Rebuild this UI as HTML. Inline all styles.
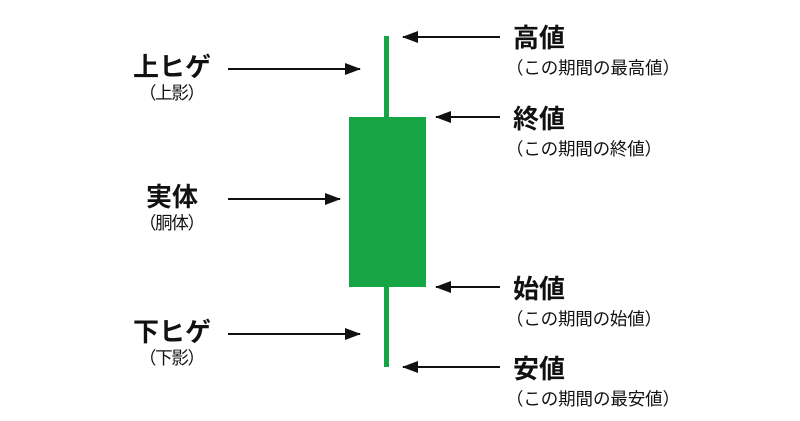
<!DOCTYPE html>
<html><head><meta charset="utf-8"><style>
html,body{margin:0;padding:0;background:#fff;}
svg{display:block;}
text{font-family:"Liberation Sans","Noto Sans CJK JP",sans-serif;fill:#111;}
.t{font-size:26px;font-weight:bold;}
.s{font-size:17.5px;}
</style></head><body>
<svg width="800" height="421" viewBox="0 0 800 421">
<defs>
<marker id="a" markerWidth="16" markerHeight="12" refX="15" refY="6" orient="auto" markerUnits="userSpaceOnUse">
<path d="M0,0 L16,6 L0,12 Z" fill="#111"/></marker>
</defs>
<rect x="384" y="36" width="5" height="331" fill="#16a544"/>
<rect x="349" y="117" width="77" height="170" fill="#16a544"/>
<g stroke="#111" stroke-width="2" marker-end="url(#a)">
<line x1="228" y1="69" x2="360" y2="69"/>
<line x1="228" y1="199" x2="340" y2="199"/>
<line x1="228" y1="334" x2="360" y2="334"/>
<line x1="500" y1="37" x2="403" y2="37"/>
<line x1="500" y1="117" x2="436" y2="117"/>
<line x1="500" y1="287" x2="436" y2="287"/>
<line x1="500" y1="367" x2="403" y2="367"/>
</g>
<g text-anchor="middle">
<text class="t" x="172" y="76">上ヒゲ</text>
<text class="s" x="172" y="99" textLength="66" lengthAdjust="spacing">（上影）</text>
<text class="t" x="172" y="206">実体</text>
<text class="s" x="172" y="229" textLength="66" lengthAdjust="spacing">（胴体）</text>
<text class="t" x="172" y="341">下ヒゲ</text>
<text class="s" x="172" y="364" textLength="66" lengthAdjust="spacing">（下影）</text>
</g>
<text class="t" x="513" y="47">高値</text>
<text class="s" x="506" y="74" textLength="174" lengthAdjust="spacing">（この期間の最高値）</text>
<text class="t" x="513" y="128">終値</text>
<text class="s" x="506" y="155" textLength="156" lengthAdjust="spacing">（この期間の終値）</text>
<text class="t" x="513" y="298">始値</text>
<text class="s" x="506" y="325" textLength="156" lengthAdjust="spacing">（この期間の始値）</text>
<text class="t" x="513" y="378">安値</text>
<text class="s" x="506" y="405" textLength="174" lengthAdjust="spacing">（この期間の最安値）</text>
</svg>
</body></html>
